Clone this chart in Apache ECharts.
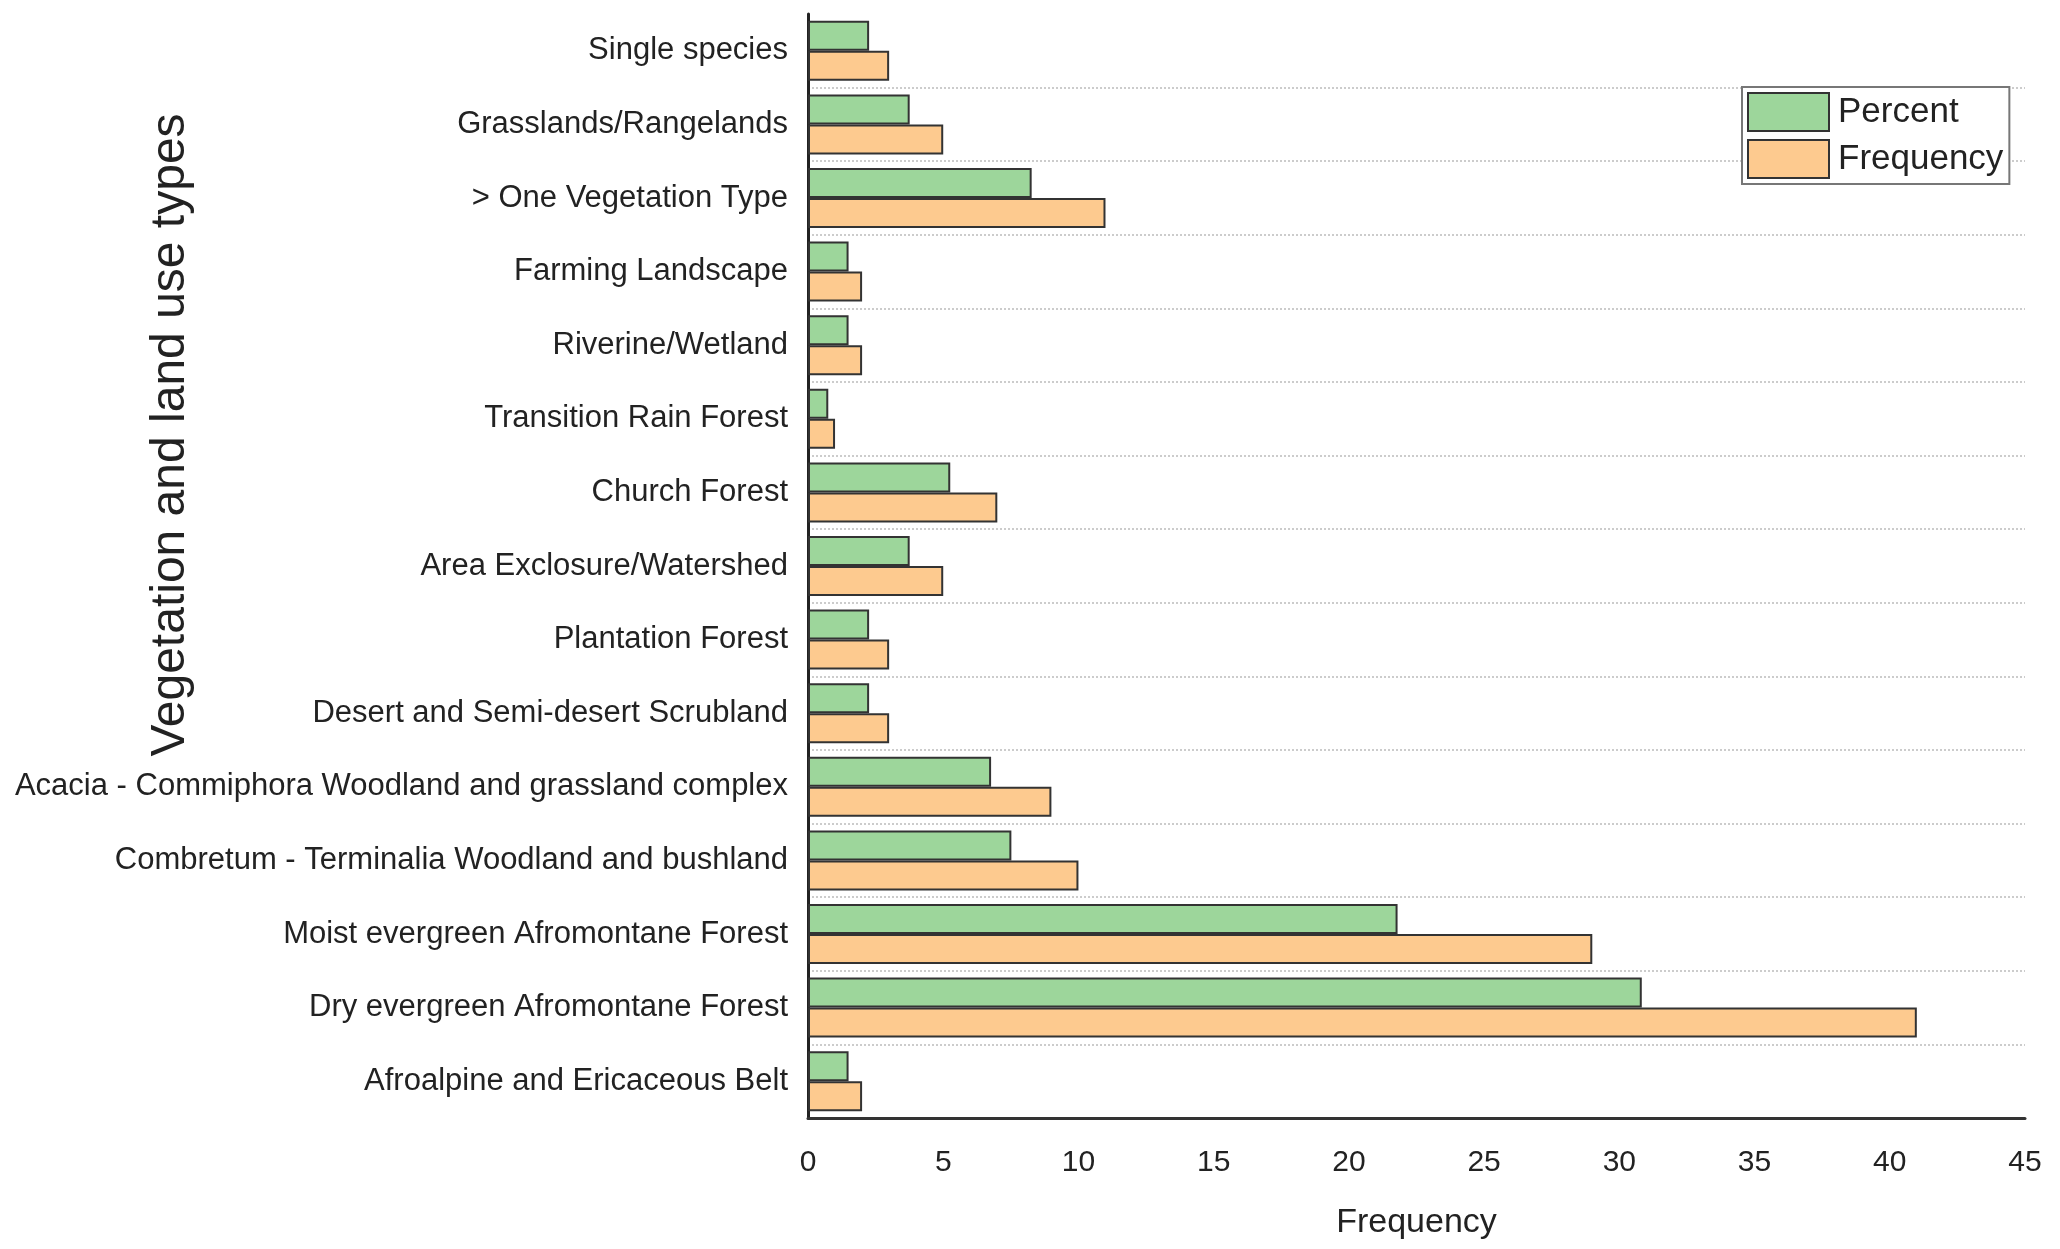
<!DOCTYPE html>
<html>
<head>
<meta charset="utf-8">
<script src="https://cdn.jsdelivr.net/npm/echarts@6/dist/echarts.min.js"></script>
<style>
  html, body { margin: 0; padding: 0; background: #fff; }
  #main { width: 2060px; height: 1249px; }
</style>
</head>
<body>
<div id="main"></div>
<script>
// categories, top to bottom as in the figure
var categories = [
  'Single species',
  'Grasslands/Rangelands',
  '> One Vegetation Type',
  'Farming Landscape',
  'Riverine/Wetland',
  'Transition Rain Forest',
  'Church Forest',
  'Area Exclosure/Watershed',
  'Plantation Forest',
  'Desert and Semi-desert Scrubland',
  'Acacia - Commiphora Woodland and grassland complex',
  'Combretum - Terminalia Woodland and bushland',
  'Moist evergreen Afromontane Forest',
  'Dry evergreen Afromontane Forest',
  'Afroalpine and Ericaceous Belt'
];
var percent = [2.26, 3.76, 8.27, 1.5, 1.5, 0.75, 5.26, 3.76, 2.26, 2.26, 6.77, 7.52, 21.8, 30.83, 1.5];
var frequency = [3, 5, 11, 2, 2, 1, 7, 5, 3, 3, 9, 10, 29, 41, 2];
var xTicks = { min: 0, max: 45, interval: 5 };

var font = "'Liberation Sans', Arial, sans-serif";
var myChart = echarts.init(document.getElementById('main'));
myChart.setOption({
  animation: false,
  textStyle: { fontFamily: font },
  grid: { left: 808, right: 35, top: 14, bottom: 131 },
  legend: {
    orient: 'vertical',
    left: 1742,
    top: 87,
    icon: 'rect',
    itemWidth: 81,
    itemHeight: 38,
    itemGap: 7,
    padding: [5, 6, 5, 5],
    borderColor: '#777',
    borderWidth: 2,
    backgroundColor: '#fff',
    textStyle: { fontSize: 35, color: '#222', fontFamily: font, padding: [0, 0, 0, 4] },
    data: ['Percent', 'Frequency']
  },
  graphic: [{
    type: 'text',
    x: 171,
    y: 435,
    rotation: Math.PI / 2,
    style: {
      text: 'Vegetation and land use types',
      fontSize: 48,
      fontFamily: font,
      fill: '#222',
      align: 'center',
      verticalAlign: 'middle'
    }
  }],
  xAxis: {
    type: 'value',
    min: xTicks.min,
    max: xTicks.max,
    interval: xTicks.interval,
    name: 'Frequency',
    nameLocation: 'middle',
    nameGap: 88,
    nameTextStyle: { fontSize: 34, color: '#222' },
    axisLine: { show: true, lineStyle: { color: '#333', width: 3 } },
    axisTick: { show: false },
    axisLabel: { fontSize: 30, color: '#222', margin: 30 },
    splitLine: { show: false }
  },
  yAxis: {
    type: 'category',
    inverse: true,
    data: categories,
    axisLine: { show: true, lineStyle: { color: '#222', width: 3 } },
    axisTick: { show: false },
    axisLabel: { fontSize: 31, color: '#222', margin: 20 },
    splitLine: {
      show: true,
      showMinLine: false,
      showMaxLine: false,
      lineStyle: { type: 'dotted', color: '#ccc', width: 2 }
    }
  },
  series: [{
    name: 'Percent',
    type: 'bar',
    data: percent,
    barWidth: 30,
    barGap: '0%',
    itemStyle: { color: '#9dd69b', borderColor: '#333', borderWidth: 2 }
  }, {
    name: 'Frequency',
    type: 'bar',
    data: frequency,
    barWidth: 30,
    barGap: '0%',
    itemStyle: { color: '#fdca8f', borderColor: '#333', borderWidth: 2 }
  }]
});
</script>
</body>
</html>
